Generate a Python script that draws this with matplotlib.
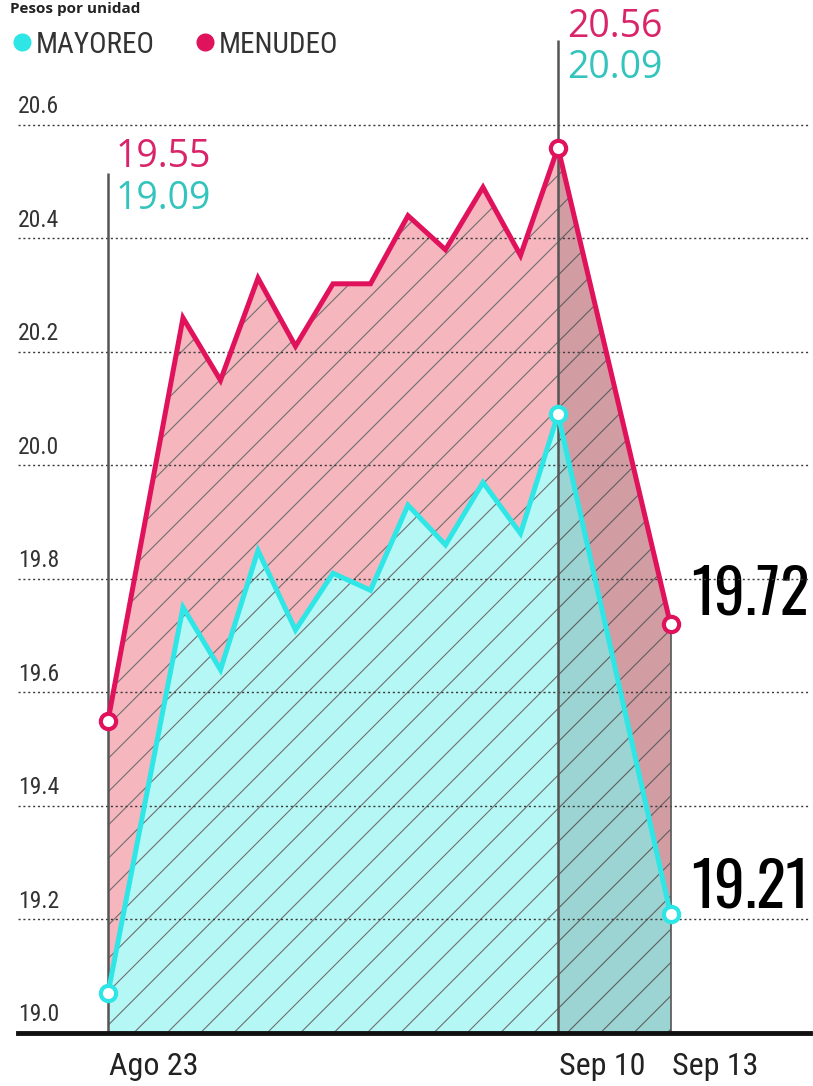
import matplotlib.pyplot as plt
from matplotlib.lines import Line2D

# posiciones de los puntos (Ago 23 ... Sep 10, Sep 13)
dias = [0, 2, 3, 4, 5, 6, 7, 8, 9, 10, 11, 12, 15]
menudeo = [19.55, 20.26, 20.15, 20.33, 20.21, 20.32, 20.32, 20.44, 20.38, 20.49, 20.37, 20.56, 19.72]
mayoreo = [19.07, 19.75, 19.64, 19.85, 19.71, 19.81, 19.78, 19.93, 19.86, 19.97, 19.88, 20.09, 19.21]
marcados = [0, 11, 12]  # indices with open circle markers
yticks = [19.0, 19.2, 19.4, 19.6, 19.8, 20.0, 20.2, 20.4, 20.6]
xlabels = ['Ago 23', 'Sep 10', 'Sep 13']
xlabel_pos = [0, 12, 15]

ROJO = '#e0125c'
CIAN = '#2fe6e6'
ROSA_FILL = '#f5b6be'
CIAN_FILL = '#b5f7f5'
ROJO_TXT = '#d9246a'
CIAN_TXT = '#33c4bd'

COND = ['Roboto Condensed', 'Barlow Condensed', 'Open Sans', 'DejaVu Sans']
BIG = ['Oswald', 'Antonio', 'Roboto Condensed', 'DejaVu Sans']

plt.rcParams['font.family'] = ['Open Sans', 'DejaVu Sans']
plt.rcParams['hatch.linewidth'] = 0.8

fig = plt.figure(figsize=(8.13, 10.86), dpi=100)
ax = fig.add_axes([18 / 813, 53 / 1086, 792 / 813, 1033 / 1086])
ax.set_xlim(-2.4, 18.72)
ax.set_ylim(19.0, 20.82)
ax.axis('off')

base = yticks[0]

# filled areas
ax.fill_between(dias, menudeo, base, facecolor=ROSA_FILL, edgecolor='#707070',
                hatch='/', linewidth=0, zorder=1)
ax.fill_between(dias, mayoreo, base, facecolor=CIAN_FILL, edgecolor='#707070',
                hatch='/', linewidth=0, zorder=2)
# darker band after Sep 10
ax.fill_between(dias[-2:], menudeo[-2:], base, color='black', alpha=0.14,
                linewidth=0, zorder=3)

# gridlines and labels
for t in yticks[1:]:
    ax.axhline(t, color='#3a3a3a', linestyle=(0, (1.5, 2)), linewidth=1.0, zorder=3.5)
for t in yticks:
    ax.text(-2.4, t + 0.032, f'{t:.1f}', fontsize=17, color='#333333', family=COND,
            ha='left', va='center', zorder=6)
ax.axhline(base, color='#111111', linewidth=3.5, zorder=6, clip_on=False)

# vertical reference lines
ax.vlines(dias[0], base, 20.516, color='#555555', linewidth=1.8, zorder=3.6)
ax.vlines(dias[11], base, 20.75, color='#555555', linewidth=1.8, zorder=3.6)
ax.vlines(dias[-1], base, menudeo[-1], color='#555555', linewidth=1.2, zorder=3.6)

# lines
ax.plot(dias, menudeo, color=ROJO, linewidth=3.6, zorder=4, solid_joinstyle='miter')
ax.plot(dias, mayoreo, color=CIAN, linewidth=3.6, zorder=4, solid_joinstyle='miter')
ax.plot([dias[i] for i in marcados], [menudeo[i] for i in marcados], 'o',
        color=ROJO, mfc='white', ms=11, mew=3, zorder=5)
ax.plot([dias[i] for i in marcados], [mayoreo[i] for i in marcados], 'o',
        color=CIAN, mfc='white', ms=11, mew=3, zorder=5)

# value labels
ax.text(0.19, 20.544, f'{menudeo[0]:.2f}', color=ROJO_TXT, fontsize=27, va='center', ha='left')
ax.text(0.19, 20.47, '19.09', color=CIAN_TXT, fontsize=27, va='center', ha='left')
ax.text(12.24, 20.773, f'{menudeo[11]:.2f}', color=ROJO_TXT, fontsize=27, va='center', ha='left')
ax.text(12.24, 20.70, f'{mayoreo[11]:.2f}', color=CIAN_TXT, fontsize=27, va='center', ha='left')
ax.text(15.55, 19.772, f'{menudeo[-1]:.2f}', color='black', fontsize=44, family=BIG,
        va='center', ha='left')
ax.text(15.55, 19.256, f'{mayoreo[-1]:.2f}', color='black', fontsize=44, family=BIG,
        va='center', ha='left')

# x labels
for lab, p in zip(xlabels, xlabel_pos):
    ax.text(p + 0.03, -0.032, lab, transform=ax.get_xaxis_transform(), family=COND,
            fontsize=23, color='#222222', ha='left', va='center')

# legend
handles = [Line2D([], [], marker='o', color=CIAN, linestyle='none', ms=12),
           Line2D([], [], marker='o', color=ROJO, linestyle='none', ms=12)]
ax.legend(handles, ['MAYOREO', 'MENUDEO'], loc='upper left', ncol=2,
          bbox_to_anchor=(-0.022, 1 - 19 / 1033), frameon=False,
          prop={'family': COND, 'size': 21},
          handlelength=0.7, handletextpad=0.1, columnspacing=1.4,
          borderaxespad=0, labelcolor='#333333')

fig.text(0.012, 1 - 2 / 1086, 'Pesos por unidad', fontsize=11, color='#222222',
         fontweight='bold', va='top', ha='left')

fig.savefig('out.png', dpi=100)
